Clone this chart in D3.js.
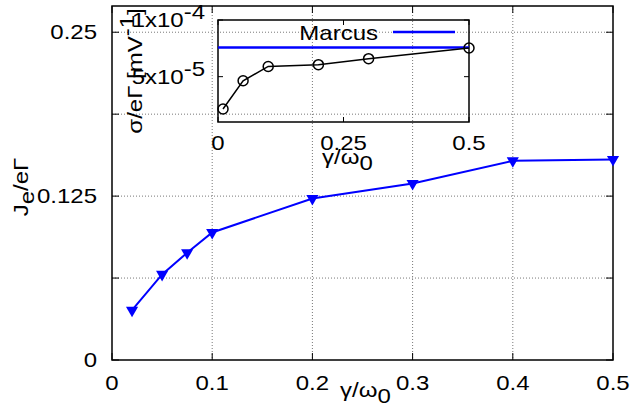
<!DOCTYPE html>
<html>
<head>
<meta charset="utf-8">
<script src="https://cdn.jsdelivr.net/npm/d3@7"></script>
<style>
  body { margin: 0; background: #fff; }
  text { font-family: "Liberation Sans", Arial, sans-serif; fill: #000; }
</style>
</head>
<body>
<div id="chart"></div>
<script>
// main curve: current vs gamma/omega0
const gammaMain = [0.02, 0.05, 0.075, 0.1, 0.2, 0.3, 0.4, 0.5];
const currentMain = [0.038, 0.0653, 0.0818, 0.0973, 0.1232, 0.1347, 0.1519, 0.153];
const mainXTicks = [0, 0.1, 0.2, 0.3, 0.4, 0.5];
const mainYTicks = [0, 0.0625, 0.125, 0.1875, 0.25];
const mainYLabels = [0, 0.125, 0.25];

// inset: conductance vs gamma/omega0
const gammaInset = [0.01, 0.05, 0.1, 0.2, 0.3, 0.5];
const sigmaInset = [2.15e-5, 4.64e-5, 5.9e-5, 6.06e-5, 6.59e-5, 7.53e-5];
const marcusSigma = [7.58e-5];
const insetXTicks = [0, 0.25, 0.5];
const insetYTicks = [5e-5, 1e-4];
const insetYLabels = [["5x10", "-5"], ["1x10", "-4"]];

const width = 634, height = 414;
const svg = d3.select("#chart").append("svg")
  .attr("width", width).attr("height", height);

// 文字横向拉伸（参考图的字体偏宽）
const sx = 1.2;
function label(x0, y0, anchor, rot) {
  return svg.append("text")
    .attr("transform", `translate(${x0},${y0})${rot ? " rotate(" + rot + ")" : ""} scale(${sx},1)`)
    .attr("text-anchor", anchor || "start")
    .attr("font-size", 20);
}

// 主图
const m = { left: 112, right: 613, top: 6, bottom: 360 };
const x = d3.scaleLinear().domain([0, 0.5]).range([m.left, m.right]);
const y = d3.scaleLinear().domain([0, 0.27]).range([m.bottom, m.top]);

const grid = svg.append("g")
  .attr("stroke", "#555").attr("stroke-width", 0.8).attr("stroke-dasharray", "1,2");
grid.selectAll(".gx").data(mainXTicks.filter(d => d > 0 && d < 0.5)).join("line")
  .attr("x1", d => x(d)).attr("x2", d => x(d)).attr("y1", m.top).attr("y2", m.bottom);
grid.selectAll(".gy").data(mainYTicks.filter(d => d > 0)).join("line")
  .attr("y1", d => y(d)).attr("y2", d => y(d)).attr("x1", m.left).attr("x2", m.right);

// 刻度（向内，四边）
const tk = 7;
const ticks = svg.append("g").attr("stroke", "#000").attr("stroke-width", 1);
mainXTicks.forEach(d => {
  ticks.append("line").attr("x1", x(d)).attr("x2", x(d)).attr("y1", m.bottom).attr("y2", m.bottom - tk);
  ticks.append("line").attr("x1", x(d)).attr("x2", x(d)).attr("y1", m.top).attr("y2", m.top + tk);
});
mainYTicks.forEach(d => {
  ticks.append("line").attr("y1", y(d)).attr("y2", y(d)).attr("x1", m.left).attr("x2", m.left + tk);
  ticks.append("line").attr("y1", y(d)).attr("y2", y(d)).attr("x1", m.right).attr("x2", m.right - tk);
});

svg.append("rect")
  .attr("x", m.left).attr("y", m.top)
  .attr("width", m.right - m.left).attr("height", m.bottom - m.top)
  .attr("fill", "none").attr("stroke", "#000").attr("stroke-width", 1.5);

mainXTicks.forEach(d => label(x(d), 390, "middle").text(d3.format("")(d)));
mainYLabels.forEach(d => label(97, y(d) + 7, "end").text(d3.format("")(d)));

// 坐标轴标题
const xt = label(340, 397);
xt.append("tspan").text("γ/ω");
xt.append("tspan").attr("dy", 6).text("0");

const yt = label(28, 187, "middle", -90);
yt.append("tspan").text("J");
yt.append("tspan").attr("dy", 6).text("e");
yt.append("tspan").attr("dy", -6).text("/eΓ");

// 主曲线
const line = d3.line().x((d, i) => x(gammaMain[i])).y(d => y(d));
svg.append("path").datum(currentMain)
  .attr("d", line).attr("fill", "none").attr("stroke", "#0000ff").attr("stroke-width", 2);
svg.selectAll(".tri").data(currentMain).join("path")
  .attr("d", d3.symbol(d3.symbolTriangle, 64))
  .attr("transform", (d, i) => `translate(${x(gammaMain[i])},${y(d)}) rotate(180)`)
  .attr("fill", "#0000ff");

// 插图
const im = { left: 218, right: 469, top: 20, bottom: 122 };
const ix = d3.scaleLinear().domain([0, 0.5]).range([im.left, im.right]);
const iy = d3.scaleLinear().domain([1e-5, 1e-4]).range([im.bottom, im.top]);

const itk = 5;
const iticks = svg.append("g").attr("stroke", "#000").attr("stroke-width", 1);
insetXTicks.forEach(d => {
  iticks.append("line").attr("x1", ix(d)).attr("x2", ix(d)).attr("y1", im.bottom).attr("y2", im.bottom - itk);
  iticks.append("line").attr("x1", ix(d)).attr("x2", ix(d)).attr("y1", im.top).attr("y2", im.top + itk);
});
insetYTicks.forEach(d => {
  iticks.append("line").attr("y1", iy(d)).attr("y2", iy(d)).attr("x1", im.left).attr("x2", im.left + itk);
  iticks.append("line").attr("y1", iy(d)).attr("y2", iy(d)).attr("x1", im.right).attr("x2", im.right - itk);
});

svg.append("rect")
  .attr("x", im.left).attr("y", im.top)
  .attr("width", im.right - im.left).attr("height", im.bottom - im.top)
  .attr("fill", "none").attr("stroke", "#000").attr("stroke-width", 1.5);

insetXTicks.forEach(d => label(ix(d), 150, "middle").text(d3.format("")(d)));

insetYTicks.forEach((d, i) => {
  const t = label(205, iy(d) + 7, "end");
  t.append("tspan").text(insetYLabels[i][0]);
  t.append("tspan").attr("dy", -8).text(insetYLabels[i][1]);
});

const ixt = label(322, 164);
ixt.append("tspan").text("γ/ω");
ixt.append("tspan").attr("dy", 6).text("0");

const iyt = label(142, 71, "middle", -90);
iyt.append("tspan").text("σ/eΓ [mV");
iyt.append("tspan").attr("dy", -8).text("-1");
iyt.append("tspan").attr("dy", 8).text("]");

// Marcus 水平线
svg.selectAll(".marcus").data(marcusSigma).join("line")
  .attr("x1", im.left).attr("x2", im.right)
  .attr("y1", d => iy(d)).attr("y2", d => iy(d))
  .attr("stroke", "#0000ff").attr("stroke-width", 2.5);

// 图例
label(378, 40, "end").text("Marcus");
svg.append("line").attr("x1", 393).attr("x2", 455).attr("y1", 32).attr("y2", 32)
  .attr("stroke", "#0000ff").attr("stroke-width", 2.5);

const iline = d3.line().x((d, i) => ix(gammaInset[i])).y(d => iy(d));
svg.append("path").datum(sigmaInset)
  .attr("d", iline).attr("fill", "none").attr("stroke", "#000").attr("stroke-width", 1.5);
svg.selectAll(".circ").data(sigmaInset).join("circle")
  .attr("cx", (d, i) => ix(gammaInset[i])).attr("cy", d => iy(d)).attr("r", 5)
  .attr("fill", "none").attr("stroke", "#000").attr("stroke-width", 1.5);
</script>
</body>
</html>
